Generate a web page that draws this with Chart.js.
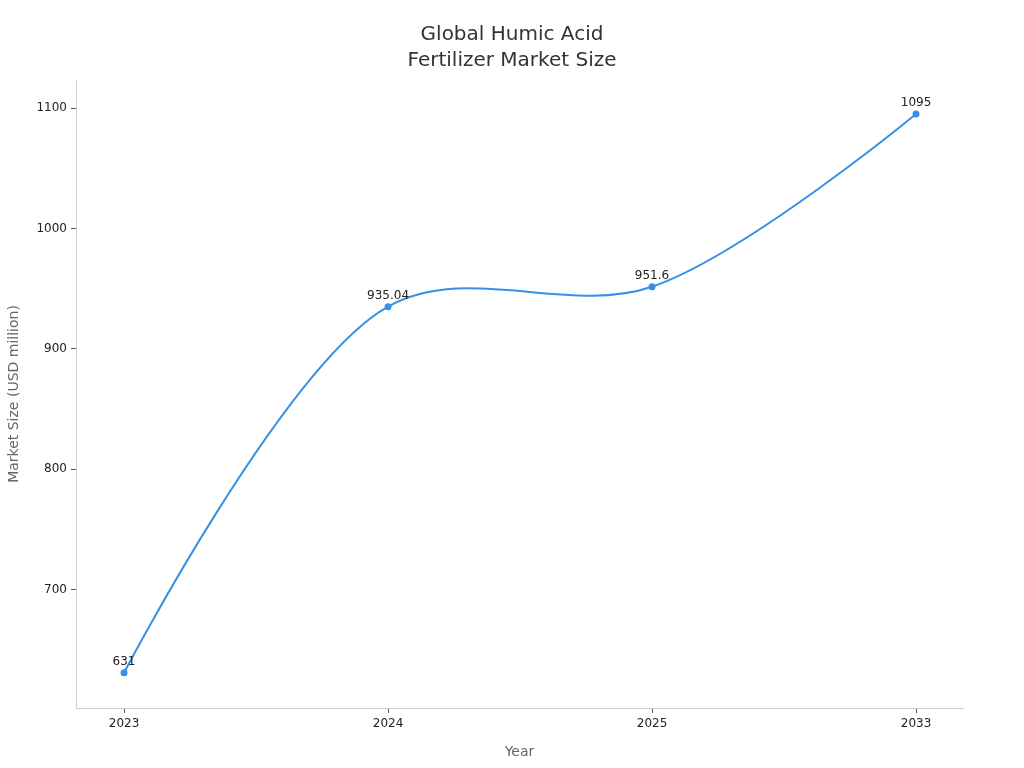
<!DOCTYPE html>
<html><head><meta charset="utf-8">
<script src="https://cdn.jsdelivr.net/npm/chart.js@4"></script>
<style>html,body{margin:0;padding:0;background:#fff}#wrap{width:1024px;height:768px}</style>
</head><body><div id="wrap"><canvas id="c" width="1024" height="768"></canvas></div>
<script>
const years = ['2023', '2024', '2025', '2033'];
const marketSize = [631, 935.04, 951.6, 1095];
const yTicks = [700, 800, 900, 1000, 1100];
const titleLines = ['Global Humic Acid', 'Fertilizer Market Size'];

const FONT = "'DejaVu Sans', sans-serif";

// Centripetal Catmull-Rom control points (alpha 0.5), applied to Chart.js line points
const catmullPlugin = {
  id: 'catmull',
  beforeDatasetDraw(chart, args) {
    const meta = chart.getDatasetMeta(args.index);
    const line = meta.dataset;
    if (!line) return;
    if (line.updateControlPoints) line.updateControlPoints(chart.chartArea, 'x');
    const pts = meta.data;
    const n = pts.length;
    const dist = (a, b) => Math.hypot(b.x - a.x, b.y - a.y);
    const alpha = 0.5;
    for (let i = 0; i < n - 1; i++) {
      const p1 = pts[i], p2 = pts[i + 1];
      const p0 = i > 0 ? pts[i - 1] : null;
      const p3 = i + 2 < n ? pts[i + 2] : null;
      const l12a = Math.pow(dist(p1, p2), alpha), l12_2a = l12a * l12a;
      let c1x = p1.x, c1y = p1.y, c2x = p2.x, c2y = p2.y;
      if (p0) {
        const l01a = Math.pow(dist(p0, p1), alpha), l01_2a = l01a * l01a;
        if (l01a > 1e-12) {
          const a = 2 * l01_2a + 3 * l01a * l12a + l12_2a;
          const nn = 3 * l01a * (l01a + l12a);
          c1x = (p1.x * a - p0.x * l12_2a + p2.x * l01_2a) / nn;
          c1y = (p1.y * a - p0.y * l12_2a + p2.y * l01_2a) / nn;
        }
      }
      if (p3) {
        const l23a = Math.pow(dist(p2, p3), alpha), l23_2a = l23a * l23a;
        if (l23a > 1e-12) {
          const b = 2 * l23_2a + 3 * l23a * l12a + l12_2a;
          const m = 3 * l23a * (l23a + l12a);
          c2x = (p2.x * b + p1.x * l23_2a - p3.x * l12_2a) / m;
          c2y = (p2.y * b + p1.y * l23_2a - p3.y * l12_2a) / m;
        }
      }
      p1.cp2x = c1x; p1.cp2y = c1y;
      p2.cp1x = c2x; p2.cp1y = c2y;
    }
    pts[0].cp1x = pts[0].x; pts[0].cp1y = pts[0].y;
    pts[n - 1].cp2x = pts[n - 1].x; pts[n - 1].cp2y = pts[n - 1].y;
    line._pointsUpdated = true;
    line._path = undefined;
  }
};

const labelPlugin = {
  id: 'labels',
  afterDatasetsDraw(chart) {
    const ctx = chart.ctx;
    const meta = chart.getDatasetMeta(0);
    ctx.save();
    ctx.font = '12px ' + FONT;
    ctx.fillStyle = '#222';
    ctx.textAlign = 'center';
    ctx.textBaseline = 'bottom';
    meta.data.forEach((pt, i) => {
      ctx.fillText(String(marketSize[i]), pt.x, pt.y - 5);
    });
    ctx.restore();
  },
  afterDraw(chart) {
    const ctx = chart.ctx;
    ctx.save();
    ctx.font = '20px ' + FONT;
    ctx.fillStyle = '#333';
    ctx.textAlign = 'center';
    ctx.textBaseline = 'middle';
    titleLines.forEach((t, i) => ctx.fillText(t, chart.width / 2, 35 + i * 26));
    ctx.restore();
  }
};

new Chart(document.getElementById('c'), {
  type: 'line',
  data: {
    datasets: [{
      data: marketSize.map((v, i) => ({x: i, y: v})),
      borderColor: '#3590e6',
      backgroundColor: '#3590e6',
      borderWidth: 2,
      pointRadius: 2.5,
      pointHoverRadius: 2.5,
      tension: 0.4,
      fill: false
    }]
  },
  options: {
    responsive: false,
    animation: false,
    devicePixelRatio: 1,
    layout: {padding: {left: 0, right: 61, top: 80, bottom: 0}},
    plugins: {
      legend: {display: false},
      tooltip: {enabled: false},
      title: {display: false}
    },
    scales: {
      x: {
        type: 'linear',
        min: -0.182,
        max: 3.178,
        afterBuildTicks: s => { s.ticks = years.map((y, i) => ({value: i})); },
        afterFit: s => { s.height = 60; },
        ticks: {
          callback: v => years[v],
          color: '#222',
          font: {family: FONT, size: 12},
          padding: 4
        },
        grid: {drawOnChartArea: false, drawTicks: true, tickLength: 5, color: '#555'},
        border: {color: '#d0d0d0', width: 1},
        title: {display: true, text: 'Year', color: '#666', font: {family: FONT, size: 14}, padding: {top: 3, bottom: 7}}
      },
      y: {
        type: 'linear',
        min: 601.7,
        max: 1123.3,
        afterBuildTicks: s => { s.ticks = yTicks.map(v => ({value: v})); },
        afterFit: s => { s.width = 76; },
        ticks: {
          callback: v => String(v),
          color: '#222',
          font: {family: FONT, size: 12},
          padding: 4
        },
        grid: {drawOnChartArea: false, drawTicks: true, tickLength: 5, color: '#555'},
        border: {color: '#d0d0d0', width: 1},
        title: {display: true, text: 'Market Size (USD million)', color: '#666', font: {family: FONT, size: 14}, padding: {top: 6, bottom: 4}}
      }
    }
  },
  plugins: [catmullPlugin, labelPlugin]
});
</script></body></html>
